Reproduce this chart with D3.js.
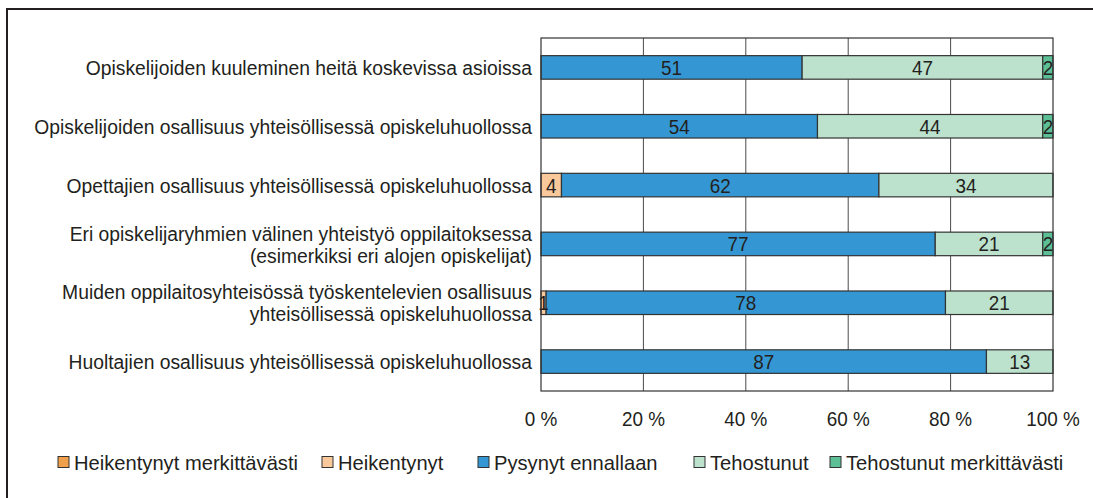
<!DOCTYPE html>
<html>
<head>
<meta charset="utf-8">
<script src="https://cdn.jsdelivr.net/npm/d3@7"></script>
<style>
  body { margin: 0; background: #fff; }
  svg text { font-family: "Liberation Sans", Arial, sans-serif; fill: #231f20; font-size: 21px; }
</style>
</head>
<body>
<div id="chart"></div>
<script>
// data
const categories = [
  ["Opiskelijoiden kuuleminen heitä koskevissa asioissa"],
  ["Opiskelijoiden osallisuus yhteisöllisessä opiskeluhuollossa"],
  ["Opettajien osallisuus yhteisöllisessä opiskeluhuollossa"],
  ["Eri opiskelijaryhmien välinen yhteistyö oppilaitoksessa", "(esimerkiksi eri alojen opiskelijat)"],
  ["Muiden oppilaitosyhteisössä työskentelevien osallisuus", "yhteisöllisessä opiskeluhuollossa"],
  ["Huoltajien osallisuus yhteisöllisessä opiskeluhuollossa"]
];
const seriesNames = ["Heikentynyt merkittävästi", "Heikentynyt", "Pysynyt ennallaan", "Tehostunut", "Tehostunut merkittävästi"];
const heikentynytMerk = [0, 0, 0, 0, 0, 0];
const heikentynyt     = [0, 0, 4, 0, 1, 0];
const pysynyt         = [51, 54, 62, 77, 78, 87];
const tehostunut      = [47, 44, 34, 21, 21, 13];
const tehostunutMerk  = [2, 2, 0, 2, 0, 0];
const tickLabels = ["0 %", "20 %", "40 %", "60 %", "80 %", "100 %"];
const colors = ["#f0a04b", "#f9c99b", "#3497d3", "#bce2cd", "#5cbf96"];

const seriesValues = [heikentynytMerk, heikentynyt, pysynyt, tehostunut, tehostunutMerk];

const W = 1093, H = 498;
const plotL = 541, plotR = 1053, plotT = 38, plotB = 391;
const narrow = 0.9; // reference font is a bit condensed

const svg = d3.select("#chart").append("svg")
  .attr("width", W).attr("height", H);

svg.append("rect").attr("width", W).attr("height", H).attr("fill", "#fff");

// outer frame (runs off the right and bottom edge)
svg.append("rect")
  .attr("x", 7).attr("y", 9)
  .attr("width", 1200).attr("height", 600)
  .attr("fill", "none").attr("stroke", "#231f20").attr("stroke-width", 2);

const x = d3.scaleLinear().domain([0, 100]).range([plotL, plotR]);
const y = d3.scaleBand().domain(d3.range(categories.length)).range([plotT, plotB]).paddingInner(0.6).paddingOuter(0.3);

// grid
svg.append("g")
  .selectAll("line")
  .data([20, 40, 60, 80])
  .enter().append("line")
  .attr("x1", d => x(d)).attr("x2", d => x(d))
  .attr("y1", plotT).attr("y2", plotB)
  .attr("stroke", "#4a4a4a").attr("stroke-width", 1);

// stacked bars
const rows = categories.map((c, i) => {
  let acc = 0;
  return seriesValues.map((s, k) => {
    const seg = { row: i, k: k, v: s[i], x0: acc, x1: acc + s[i] };
    acc += s[i];
    return seg;
  }).filter(d => d.v > 0);
});
const segs = rows.flat();

svg.append("g")
  .selectAll("rect")
  .data(segs)
  .enter().append("rect")
  .attr("x", d => x(d.x0))
  .attr("y", d => y(d.row))
  .attr("width", d => x(d.x1) - x(d.x0))
  .attr("height", y.bandwidth())
  .attr("fill", d => colors[d.k])
  .attr("stroke", "#333").attr("stroke-width", 1.2);

svg.append("g")
  .selectAll("text")
  .data(segs)
  .enter().append("text")
  .attr("transform", d => `translate(${Math.min(x((d.x0 + d.x1) / 2), plotR - 5)},${y(d.row) + y.bandwidth() / 2}) scale(${narrow},1)`)
  .attr("dy", "0.36em")
  .attr("text-anchor", "middle")
  .text(d => d.v);

// plot frame
svg.append("rect")
  .attr("x", plotL).attr("y", plotT)
  .attr("width", plotR - plotL).attr("height", plotB - plotT)
  .attr("fill", "none").attr("stroke", "#333").attr("stroke-width", 1.2);

// category labels
const lab = svg.append("g").selectAll("text")
  .data(categories)
  .enter().append("text")
  .attr("text-anchor", "end")
  .attr("transform", (d, i) => `translate(532,${y(i) + y.bandwidth() / 2}) scale(0.92,1)`);
lab.selectAll("tspan")
  .data(d => d.map((t, j) => ({ t, j, n: d.length })))
  .enter().append("tspan")
  .attr("x", 0)
  .attr("dy", d => d.j === 0 ? (0.36 - (d.n - 1) * 0.52) + "em" : "1.05em")
  .text(d => d.t);

// x axis labels
svg.append("g")
  .selectAll("text")
  .data(tickLabels)
  .enter().append("text")
  .attr("transform", (d, i) => `translate(${x(i * 20)},418) scale(${narrow},1)`)
  .attr("dy", "0.36em")
  .attr("text-anchor", "middle")
  .text(d => d);

// legend
const legendX = [58, 322, 478, 694, 830];
const leg = svg.append("g").selectAll("g")
  .data(seriesNames)
  .enter().append("g")
  .attr("transform", (d, i) => `translate(${legendX[i]},462)`);
leg.append("rect")
  .attr("x", 0).attr("y", -5.5).attr("width", 11).attr("height", 11)
  .attr("fill", (d, i) => colors[i])
  .attr("stroke", "#333").attr("stroke-width", 1);
leg.append("text")
  .attr("transform", "translate(16,0) scale(0.96,1)")
  .attr("dy", "0.36em")
  .text(d => d);
</script>
</body>
</html>
